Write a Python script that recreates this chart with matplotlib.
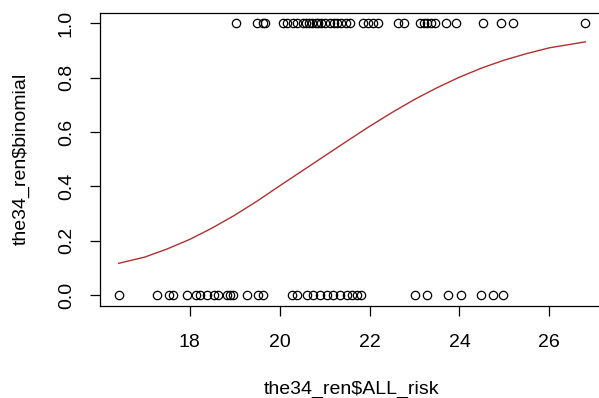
import numpy as np
import matplotlib.pyplot as plt

plt.rcParams['font.family'] = ['Liberation Sans', 'DejaVu Sans']

# ALL_risk values for binomial == 1 and binomial == 0
risk_one = [19.02, 19.50, 19.62, 19.68, 20.08, 20.17, 20.30, 20.39, 20.53, 20.59,
            20.66, 20.73, 20.82, 20.86, 20.91, 21.02, 21.13, 21.22, 21.28, 21.37,
            21.48, 21.57, 21.86, 21.97, 22.08, 22.19, 22.64, 22.77, 23.13, 23.22,
            23.28, 23.37, 23.46, 23.70, 23.93, 24.53, 24.93, 25.20, 26.80]
risk_zero = [16.42, 17.28, 17.53, 17.62, 17.93, 18.13, 18.24, 18.39, 18.53, 18.64,
             18.84, 18.90, 18.97, 19.28, 19.53, 19.64, 20.28, 20.39, 20.62, 20.75,
             20.90, 21.06, 21.19, 21.35, 21.50, 21.61, 21.72, 21.81, 23.02, 23.28,
             23.75, 24.04, 24.48, 24.75, 24.97]

# fitted logistic curve
fit_risk = [16.42, 17, 17.5, 18, 18.5, 19, 19.5, 20, 20.5, 21, 21.5, 22,
            22.5, 23, 23.5, 24, 24.5, 25, 25.5, 26, 26.8]
fit_prob = [0.117, 0.140, 0.170, 0.205, 0.247, 0.294, 0.346, 0.402, 0.457,
            0.512, 0.567, 0.621, 0.672, 0.720, 0.763, 0.802, 0.836, 0.865,
            0.889, 0.910, 0.932]

x = np.array(risk_one + risk_zero)
y = np.array([1] * len(risk_one) + [0] * len(risk_zero), dtype=float)

fig = plt.figure(figsize=(5.99, 3.98), dpi=100)
# R-style box; the right edge runs off the picture
ax = fig.add_axes([100 / 599, 1 - 306 / 398, 504 / 599, 293.5 / 398])

ax.plot(x, y, 'o', mfc='none', mec='black', markersize=6, markeredgewidth=0.9)
ax.plot(fit_risk, fit_prob, color='#b03030', lw=1)

pad_x = 0.04 * (x.max() - x.min())
ax.set_xlim(x.min() - pad_x, x.max() + pad_x)
ax.set_ylim(-0.04, 1.04)
ax.set_xticks([18, 20, 22, 24, 26])
ax.set_yticks([0.0, 0.2, 0.4, 0.6, 0.8, 1.0])
ax.set_yticklabels(['0.0', '0.2', '0.4', '0.6', '0.8', '1.0'], rotation=90, va='center')
ax.tick_params(length=7.5, width=0.9, labelsize=14)
ax.tick_params(axis='x', pad=13)
ax.tick_params(axis='y', pad=10.5)
for s in ax.spines.values():
    s.set_linewidth(0.9)

ax.set_xlabel('the34_ren$ALL_risk', fontsize=14, labelpad=21)
ax.set_ylabel('the34_ren$binomial', fontsize=14, labelpad=20)

fig.savefig('out.png', dpi=100)
